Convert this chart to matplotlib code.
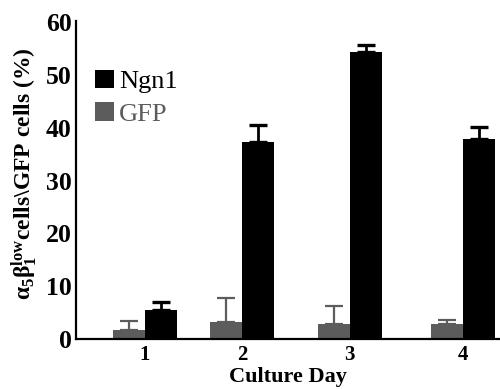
import matplotlib
matplotlib.use("Agg")
import matplotlib.pyplot as plt
from matplotlib.patches import Patch

# Data
days = ["1", "2", "3", "4"]
gfp_mean = [1.7, 3.3, 2.9, 2.9]
gfp_err = [1.8, 4.4, 3.4, 0.7]
ngn1_mean = [5.5, 37.4, 54.4, 37.9]
ngn1_err = [1.5, 3.1, 1.3, 2.2]
y_ticks = [0, 10, 20, 30, 40, 50, 60]

# Layout
group_pos = [0.0, 1.0, 2.11, 3.28]
bar_w = 0.33
gray = "#5c5c5c"

plt.rcParams["font.family"] = ["Liberation Serif", "DejaVu Serif"]
plt.rcParams["mathtext.fontset"] = "custom"
plt.rcParams["mathtext.rm"] = "Liberation Serif:bold"
plt.rcParams["mathtext.it"] = "Liberation Serif:bold"
plt.rcParams["mathtext.bf"] = "Liberation Serif:bold"

fig = plt.figure(figsize=(5.0, 3.89), dpi=100)
ax = fig.add_axes([0.152, 0.1285, 0.848, 0.818])

gx = [p - bar_w / 2 for p in group_pos]
nx = [p + bar_w / 2 for p in group_pos]

ax.bar(gx, gfp_mean, width=bar_w, color=gray, zorder=2)
ax.bar(nx, ngn1_mean, width=bar_w, color="black", zorder=2)
ax.errorbar(gx, gfp_mean, yerr=[[0] * len(gfp_err), gfp_err], fmt="none",
            ecolor=gray, elinewidth=1.6, capsize=6.5, capthick=1.6, zorder=1)
ax.errorbar(nx, ngn1_mean, yerr=[[0] * len(ngn1_err), ngn1_err], fmt="none",
            ecolor="black", elinewidth=2.0, capsize=6.5, capthick=2.4, zorder=1)

ax.set_xlim(-0.711, 3.66)
ax.set_ylim(0, 60.3)
ax.set_yticks(y_ticks)
ax.set_yticklabels([str(t) for t in y_ticks], fontsize=18.5, fontweight="bold")
ax.set_xticks(group_pos)
ax.set_xticklabels(days, fontsize=15, fontweight="bold")
ax.tick_params(axis="both", length=0)
ax.tick_params(axis="y", pad=3)
ax.tick_params(axis="x", pad=4)

for s in ["top", "right"]:
    ax.spines[s].set_visible(False)
for s in ["left", "bottom"]:
    ax.spines[s].set_linewidth(1.6)

ax.set_xlabel("Culture Day", fontsize=16, fontweight="bold", labelpad=2)
ax.set_ylabel(r"$\mathrm{\alpha_5\beta_1^{low}}$cells\GFP cells (%)",
              fontsize=17, fontweight="bold")
ax.yaxis.set_label_coords(-0.085, 0.52)

handles = [Patch(facecolor="black"), Patch(facecolor=gray)]
leg = ax.legend(handles, ["Ngn1", "GFP"], loc="upper left",
                bbox_to_anchor=(0.02, 0.88), frameon=False, fontsize=19,
                handlelength=0.7, handleheight=0.7, handletextpad=0.2,
                labelspacing=0.35, borderaxespad=0)
for txt, col in zip(leg.get_texts(), ["black", gray]):
    txt.set_color(col)

fig.savefig("out.png", dpi=100)
